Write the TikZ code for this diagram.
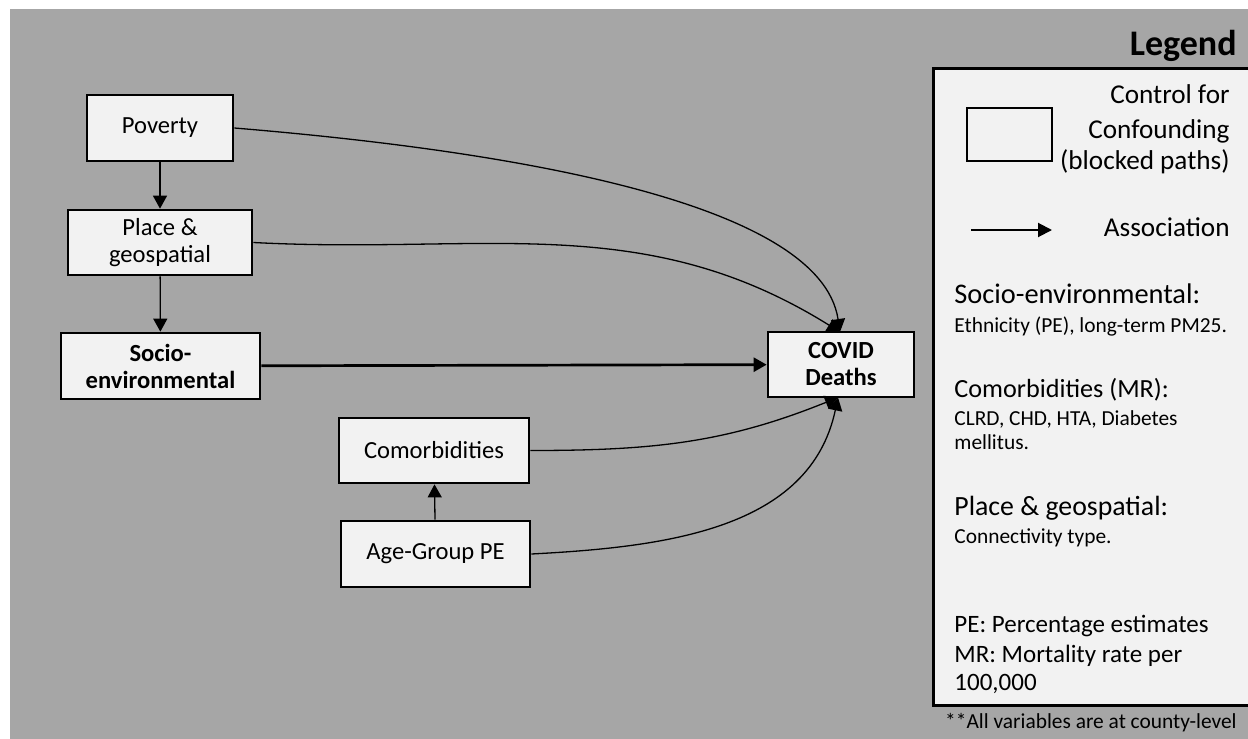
\documentclass[tikz,border=0pt]{standalone}
\usepackage{fontspec}
\setmainfont{Carlito}
\usetikzlibrary{arrows.meta}

\definecolor{bggray}{HTML}{A6A6A6}
\definecolor{boxfill}{HTML}{F2F2F2}

\tikzset{
    var/.style={
        draw=black,
        line width=1.35pt,
        fill=boxfill,
        align=center,
        inner sep=0pt,
        font=\fontsize{12.3}{13.5}\selectfont
    },
    assoc/.style={-{Triangle[length=6.5pt,width=7pt]}, line width=0.65pt},
    legbig/.style={inner sep=0pt, font=\fontsize{13.6}{16}\selectfont},
    legsmall/.style={inner sep=0pt, font=\fontsize{10.7}{13}\selectfont}
}

\begin{document}
\begin{tikzpicture}[x=0.5pt, y=-0.5pt]
    \useasboundingbox (0,0) rectangle (1248,739);
    \clip (0,0) rectangle (1248,739);
    \fill[white] (0,0) rectangle (1248,739);
    \fill[bggray] (10,9) rectangle (1248,739);

    % variables
    \node[var, minimum width=73pt, minimum height=33pt] (pov) at (160,128) {Poverty};
    \node[var, minimum width=92pt, minimum height=32.5pt] (place) at (160,242.5) {Place \&\\geospatial};
    \node[var, minimum width=99.5pt, minimum height=33pt, font=\fontsize{12.3}{13.5}\selectfont\bfseries] (socio) at (160.5,366) {Socio-\\environmental};
    \node[var, minimum width=73pt, minimum height=32.5pt, font=\fontsize{12.3}{13.5}\selectfont\bfseries] (covid) at (841,364.5) {COVID\\Deaths};
    \node[var, minimum width=95pt, minimum height=32.5pt] (comorb) at (434,450.5) {Comorbidities};
    \node[var, minimum width=94.5pt, minimum height=33pt] (age) at (435.5,554) {Age-Group PE};

    \coordinate (covidtop) at (840,332);
    \coordinate (covidbot) at (838,397.5);

    % associations
    \draw[assoc] (pov) -- (place);
    \draw[assoc] (place) -- (socio);
    \draw[assoc] (age) -- (comorb);
    \draw[assoc, line width=1.35pt] (socio) -- (covid);
    \draw[assoc] (pov.east) .. controls (500,150) and (820,200) .. (covidtop);
    \draw[assoc] (place.east) to[out=-3, in=148] (covidtop);
    \draw[assoc] (comorb.east) to[out=0, in=202] (covidbot);
    \draw[assoc] (age.east) to[out=3, in=258] (covidbot);

    % legend
    \node[anchor=base east, inner sep=0pt, font=\fontsize{18}{22}\selectfont\bfseries] (legtitle) at (1237,55) {Legend};
    \draw[line width=1.5pt, fill=boxfill] (933,68) rectangle (1270,705);
    \draw[line width=1pt, fill=boxfill] (967,108) rectangle (1052,161);
    \coordinate (legarrow-a) at (971,230);
    \coordinate (legarrow-b) at (1052,230);
    \draw[-{Triangle[length=7pt,width=7pt]}, line width=1pt] (legarrow-a) -- (legarrow-b);
    \foreach[count=~] \y/\t in {103/{Control for}, 138/{Confounding}, 169/{(blocked paths)}, 236/{Association}} {
        \node[legbig, anchor=base east] (legkey-~) at (1230,\y) {\t};
    }
    \foreach[count=~] \y/\s/\t in {303/14.2/{Socio-environmental:}, 397/13.1/{Comorbidities (MR):}, 515/13.9/{Place \& geospatial:}, 632/12.5/{PE: Percentage estimates}, 662/12.5/{MR: Mortality rate per}, 690/12.5/{100,000}} {
        \node[legbig, anchor=base west, font=\fontsize{\s}{16}\selectfont] (legdef-~) at (954,\y) {\t};
    }
    \foreach[count=~] \y/\t in {332/{Ethnicity (PE), long-term PM25.}, 425/{CLRD, CHD, HTA, Diabetes}, 449/{mellitus.}, 543/{Connectivity type.}} {
        \node[legsmall, anchor=base west] (legtxt-~) at (954,\y) {\t};
    }
    \node[legsmall, anchor=base east] (legnote) at (1237,728) {**All variables are at county-level};
\end{tikzpicture}
\end{document}
